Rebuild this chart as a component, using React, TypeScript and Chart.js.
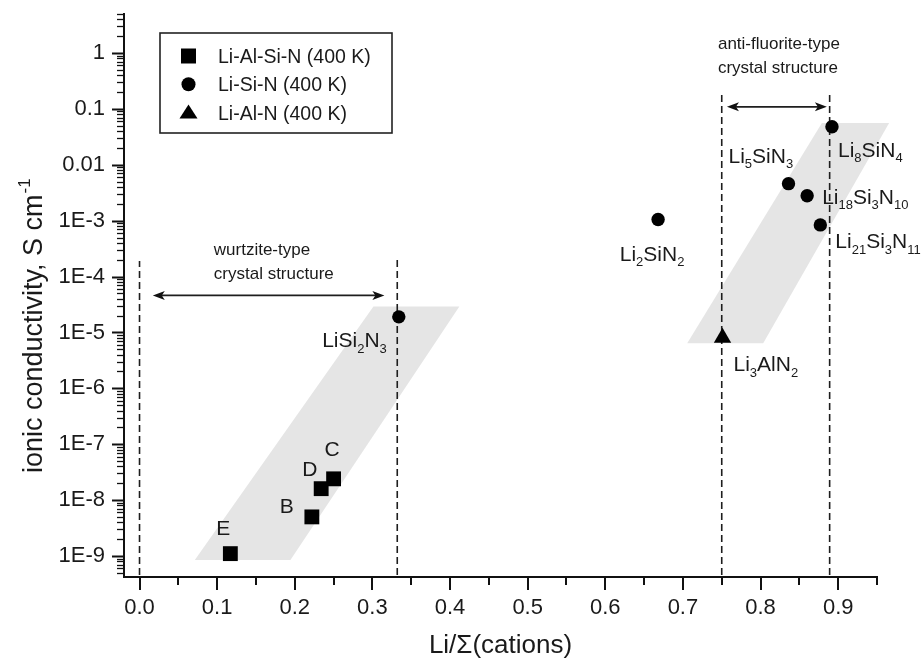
import React, { useEffect, useRef } from "react";
import { Chart, registerables } from "chart.js";

Chart.register(...registerables);

// ---------- data ----------
const liAlSiNNames = ["E", "B", "D", "C"];
const liAlSiNX = [0.117, 0.222, 0.234, 0.25];
const liAlSiNY = [1.1e-9, 5.0e-9, 1.6e-8, 2.4e-8];

const liSiNNames = ["LiSi_2N_3", "Li_2SiN_2", "Li_5SiN_3", "Li_18Si_3N_10", "Li_21Si_3N_11", "Li_8SiN_4"];
const liSiNX = [0.334, 0.668, 0.836, 0.86, 0.877, 0.892];
const liSiNY = [1.9e-5, 1.05e-3, 4.6e-3, 2.8e-3, 8.4e-4, 0.048];

const liAlNNames = ["Li_3AlN_2"];
const liAlNX = [0.751];
const liAlNY = [8.0e-6];

const seriesLabels = ["Li-Al-Si-N (400 K)", "Li-Si-N (400 K)", "Li-Al-N (400 K)"];

// shaded bands (corner points: bottom-left, bottom-right, top-right, top-left)
const wurtziteBandX = [0.0712, 0.1944, 0.412, 0.3013];
const wurtziteBandY = [8.5e-10, 8.5e-10, 2.9e-5, 2.9e-5];
const antiFluoriteBandX = [0.7055, 0.8034, 0.9656, 0.879];
const antiFluoriteBandY = [6.4e-6, 6.4e-6, 0.056, 0.056];

// dashed guide lines
const guideX = [0.0, 0.332, 0.75, 0.889];
const guideTop = [1.9e-4, 2.2e-4, 0.18, 0.21];

// double arrows
const arrowY = [4.6e-5, 0.109];
const arrowX1 = [0.0171, 0.7567];
const arrowX2 = [0.3154, 0.8854];
const arrowText = [
  ["wurtzite-type", "crystal structure"],
  ["anti-fluorite-type", "crystal structure"],
];

// axes
const xMin = -0.02;
const xMax = 0.95;
const yMin = 4.2e-10;
const yMax = 5;
const xTickValues = [0, 0.1, 0.2, 0.3, 0.4, 0.5, 0.6, 0.7, 0.8, 0.9];
const xTickLabels = ["0.0", "0.1", "0.2", "0.3", "0.4", "0.5", "0.6", "0.7", "0.8", "0.9"];
const xMinorTicks = [0.05, 0.15, 0.25, 0.35, 0.45, 0.55, 0.65, 0.75, 0.85, 0.95];
const yTickValues = [1e-9, 1e-8, 1e-7, 1e-6, 1e-5, 1e-4, 1e-3, 1e-2, 1e-1, 1];
const yTickLabels = ["1E-9", "1E-8", "1E-7", "1E-6", "1E-5", "1E-4", "1E-3", "0.01", "0.1", "1"];
const xTitle = "Li/Σ(cations)";
const yTitle = "ionic conductivity, S cm";
const yTitleSup = "-1";

// ---------- styling ----------
const FONT = '"Liberation Sans", Arial, Helvetica, sans-serif';
const TEXT = "#1a1a1a";
const font = (sz: number) => `${sz}px ${FONT}`;

const labelPlacement: Record<string, { dx: number; dy: number; align: "left" | "right" | "center" }> = {
  E: { dx: -14, dy: -19, align: "left" },
  B: { dx: -32, dy: -4, align: "left" },
  D: { dx: -19, dy: -13, align: "left" },
  C: { dx: -9, dy: -23, align: "left" },
  LiSi_2N_3: { dx: -12, dy: 30, align: "right" },
  Li_2SiN_2: { dx: -6, dy: 41, align: "center" },
  Li_5SiN_3: { dx: -60, dy: -21, align: "left" },
  Li_18Si_3N_10: { dx: 15, dy: 8, align: "left" },
  Li_21Si_3N_11: { dx: 15, dy: 23, align: "left" },
  Li_8SiN_4: { dx: 6, dy: 30, align: "left" },
  Li_3AlN_2: { dx: 11, dy: 33, align: "left" },
};

function parseChem(s: string) {
  const parts: { t: string; sub: boolean }[] = [];
  let i = 0;
  while (i < s.length) {
    if (s[i] === "_") {
      let j = i + 1;
      while (j < s.length && /\d/.test(s[j])) j++;
      parts.push({ t: s.slice(i + 1, j), sub: true });
      i = j;
    } else {
      let j = i;
      while (j < s.length && s[j] !== "_") j++;
      parts.push({ t: s.slice(i, j), sub: false });
      i = j;
    }
  }
  return parts;
}

function drawChem(ctx: CanvasRenderingContext2D, s: string, x: number, y: number, size: number, align: string) {
  const parts = parseChem(s);
  const subSize = Math.round(size * 0.64);
  let w = 0;
  const widths: number[] = [];
  for (const p of parts) {
    ctx.font = font(p.sub ? subSize : size);
    const pw = ctx.measureText(p.t).width;
    widths.push(pw);
    w += pw;
  }
  let cx = align === "right" ? x - w : align === "center" ? x - w / 2 : x;
  ctx.textAlign = "left";
  ctx.textBaseline = "alphabetic";
  parts.forEach((p, k) => {
    ctx.font = font(p.sub ? subSize : size);
    ctx.fillText(p.t, cx, p.sub ? y + size * 0.27 : y);
    cx += widths[k];
  });
}

function drawArrowHead(ctx: CanvasRenderingContext2D, tipX: number, y: number, dir: number) {
  const len = 12;
  const half = 4.5;
  ctx.beginPath();
  ctx.moveTo(tipX, y);
  ctx.lineTo(tipX - dir * len, y - half);
  ctx.lineTo(tipX - dir * len * 0.75, y);
  ctx.lineTo(tipX - dir * len, y + half);
  ctx.closePath();
  ctx.fill();
}

function drawMarker(ctx: CanvasRenderingContext2D, style: string, cx: number, cy: number) {
  ctx.beginPath();
  if (style === "rect") {
    ctx.rect(cx - 7.5, cy - 7.5, 15, 15);
  } else if (style === "circle") {
    ctx.arc(cx, cy, 7, 0, Math.PI * 2);
  } else {
    ctx.moveTo(cx, cy - 8);
    ctx.lineTo(cx + 9, cy + 6);
    ctx.lineTo(cx - 9, cy + 6);
    ctx.closePath();
  }
  ctx.fill();
}

const annotate = {
  id: "annotate",
  beforeDatasetsDraw(chart: any) {
    const { ctx, scales, chartArea } = chart;
    const x = scales.x;
    const y = scales.y;
    ctx.save();
    // bands
    ctx.fillStyle = "#e5e5e5";
    for (const [bx, by] of [
      [wurtziteBandX, wurtziteBandY],
      [antiFluoriteBandX, antiFluoriteBandY],
    ]) {
      ctx.beginPath();
      bx.forEach((v: number, i: number) => {
        const px = x.getPixelForValue(v);
        const py = y.getPixelForValue(by[i]);
        if (i === 0) ctx.moveTo(px, py);
        else ctx.lineTo(px, py);
      });
      ctx.closePath();
      ctx.fill();
    }
    // dashed guides
    ctx.strokeStyle = "#1e1e1e";
    ctx.lineWidth = 1.6;
    ctx.setLineDash([7, 4]);
    guideX.forEach((gx, i) => {
      const px = x.getPixelForValue(gx);
      ctx.beginPath();
      ctx.moveTo(px, chartArea.bottom - 2);
      ctx.lineTo(px, y.getPixelForValue(guideTop[i]));
      ctx.stroke();
    });
    ctx.setLineDash([]);
    // arrows
    ctx.fillStyle = "#111";
    ctx.lineWidth = 1.6;
    arrowY.forEach((ay, i) => {
      const py = y.getPixelForValue(ay);
      const p1 = x.getPixelForValue(arrowX1[i]);
      const p2 = x.getPixelForValue(arrowX2[i]);
      ctx.beginPath();
      ctx.moveTo(p1 + 6, py);
      ctx.lineTo(p2 - 6, py);
      ctx.stroke();
      drawArrowHead(ctx, p1, py, -1);
      drawArrowHead(ctx, p2, py, 1);
    });
    // arrow captions
    ctx.fillStyle = TEXT;
    ctx.font = font(17);
    ctx.textAlign = "left";
    ctx.textBaseline = "alphabetic";
    const capOffsets = [
      { dx: 61, dy1: -40, dy2: -16 },
      { dx: -9, dy1: -58, dy2: -34 },
    ];
    arrowText.forEach((lines, i) => {
      const py = y.getPixelForValue(arrowY[i]);
      const px = x.getPixelForValue(arrowX1[i]) + capOffsets[i].dx;
      ctx.fillText(lines[0], px, py + capOffsets[i].dy1);
      ctx.fillText(lines[1], px, py + capOffsets[i].dy2);
    });
    ctx.restore();
  },
  afterDatasetsDraw(chart: any) {
    const { ctx, scales } = chart;
    const x = scales.x;
    const y = scales.y;
    ctx.save();
    ctx.fillStyle = TEXT;
    const groups: [string[], number[], number[]][] = [
      [liAlSiNNames, liAlSiNX, liAlSiNY],
      [liSiNNames, liSiNX, liSiNY],
      [liAlNNames, liAlNX, liAlNY],
    ];
    for (const [names, xs, ys] of groups) {
      names.forEach((n, i) => {
        const pl = labelPlacement[n];
        const px = x.getPixelForValue(xs[i]) + pl.dx;
        const py = y.getPixelForValue(ys[i]) + pl.dy;
        drawChem(ctx, n, px, py, 21, pl.align);
      });
    }
    ctx.restore();
  },
  afterDraw(chart: any) {
    const { ctx, scales, chartArea } = chart;
    const x = scales.x;
    const y = scales.y;
    ctx.save();
    // tick marks
    ctx.strokeStyle = "#111";
    ctx.lineWidth = 2;
    const b = chartArea.bottom + 1;
    xTickValues.forEach((v) => {
      const px = Math.round(x.getPixelForValue(v));
      ctx.beginPath();
      ctx.moveTo(px, b);
      ctx.lineTo(px, b + 12);
      ctx.stroke();
    });
    xMinorTicks.forEach((v) => {
      const px = Math.round(x.getPixelForValue(v));
      ctx.beginPath();
      ctx.moveTo(px, b);
      ctx.lineTo(px, b + 7);
      ctx.stroke();
    });
    const l = chartArea.left - 1;
    yTickValues.forEach((v) => {
      const py = Math.round(y.getPixelForValue(v)) + 0.5;
      ctx.beginPath();
      ctx.moveTo(l - 11, py);
      ctx.lineTo(l, py);
      ctx.stroke();
    });
    ctx.lineWidth = 1.3;
    for (let e = -10; e <= 0; e++) {
      for (let m = 2; m <= 9; m++) {
        const v = m * Math.pow(10, e);
        if (v < yMin || v > yMax) continue;
        const py = Math.round(y.getPixelForValue(v)) + 0.5;
        ctx.beginPath();
        ctx.moveTo(l - 6, py);
        ctx.lineTo(l, py);
        ctx.stroke();
      }
    }
    // legend
    const lx = chartArea.left + 36;
    const ly = chartArea.top + 19;
    ctx.lineWidth = 1.6;
    ctx.strokeStyle = "#222";
    ctx.strokeRect(lx, ly, 232, 100);
    chart.data.datasets.forEach((ds: any, i: number) => {
      const cy = ly + 23 + i * 28.3;
      ctx.fillStyle = "#000";
      drawMarker(ctx, ds.pointStyle, lx + 28.5, cy);
      ctx.fillStyle = TEXT;
      ctx.font = font(19.5);
      ctx.textAlign = "left";
      ctx.textBaseline = "alphabetic";
      ctx.fillText(ds.label, lx + 58, cy + 7);
    });
    // axis titles
    ctx.fillStyle = TEXT;
    ctx.font = font(26);
    ctx.textAlign = "center";
    ctx.textBaseline = "alphabetic";
    ctx.fillText(xTitle, (chartArea.left + chartArea.right) / 2, 653);
    ctx.translate(42, 473);
    ctx.rotate(-Math.PI / 2);
    ctx.font = font(27);
    ctx.textAlign = "left";
    ctx.fillText(yTitle, 0, 0);
    const w = ctx.measureText(yTitle).width;
    ctx.font = font(17);
    ctx.fillText(yTitleSup, w + 1, -12);
    ctx.restore();
  },
};

export default function App() {
  const ref = useRef<HTMLCanvasElement | null>(null);
  useEffect(() => {
    if (!ref.current) return;
    const toPts = (xs: number[], ys: number[]) => xs.map((v, i) => ({ x: v, y: ys[i] }));
    const chart = new Chart(ref.current, {
      type: "scatter",
      data: {
        datasets: [
          {
            label: seriesLabels[0],
            data: toPts(liAlSiNX, liAlSiNY),
            pointStyle: "rect",
            pointRadius: 10.5,
            backgroundColor: "#000",
            borderColor: "#000",
            borderWidth: 0,
          },
          {
            label: seriesLabels[1],
            data: toPts(liSiNX, liSiNY),
            pointStyle: "circle",
            pointRadius: 6.7,
            backgroundColor: "#000",
            borderColor: "#000",
            borderWidth: 0,
          },
          {
            label: seriesLabels[2],
            data: toPts(liAlNX, liAlNY),
            pointStyle: "triangle",
            pointRadius: 10,
            backgroundColor: "#000",
            borderColor: "#000",
            borderWidth: 0,
          },
        ],
      },
      options: {
        animation: false,
        responsive: false,
        devicePixelRatio: 1,
        layout: { padding: { left: 0, top: 14, right: 44, bottom: 0 } },
        plugins: { legend: { display: false }, tooltip: { enabled: false } },
        scales: {
          x: {
            type: "linear",
            min: xMin,
            max: xMax,
            afterFit: (s: any) => {
              s.height = 88;
              s.paddingLeft = 0;
              s.paddingRight = 0;
              s.paddingTop = 0;
              s.paddingBottom = 0;
            },
            afterBuildTicks: (s: any) => {
              s.ticks = xTickValues.map((v) => ({ value: v }));
            },
            grid: { display: false, drawTicks: false },
            border: { display: true, color: "#111", width: 2 },
            ticks: {
              autoSkip: false,
              maxRotation: 0,
              padding: 18,
              color: TEXT,
              font: { family: FONT, size: 22 },
              callback: (_v: any, i: number) => xTickLabels[i],
            },
          },
          y: {
            type: "logarithmic",
            min: yMin,
            max: yMax,
            afterFit: (s: any) => {
              s.width = 124;
              s.paddingTop = 0;
              s.paddingBottom = 0;
              s.paddingLeft = 0;
              s.paddingRight = 0;
            },
            afterBuildTicks: (s: any) => {
              s.ticks = yTickValues.map((v) => ({ value: v }));
            },
            grid: { display: false, drawTicks: false },
            border: { display: true, color: "#111", width: 2 },
            ticks: {
              autoSkip: false,
              padding: 19,
              color: TEXT,
              font: { family: FONT, size: 22 },
              callback: (_v: any, i: number) => yTickLabels[i],
            },
          },
        },
      },
      plugins: [annotate],
    } as any);
    return () => chart.destroy();
  }, []);
  return (
    <div style={{ position: "absolute", left: 0, top: 0, width: 921, height: 665, background: "#fff" }}>
      <canvas ref={ref} width={921} height={665} style={{ display: "block" }} />
    </div>
  );
}
